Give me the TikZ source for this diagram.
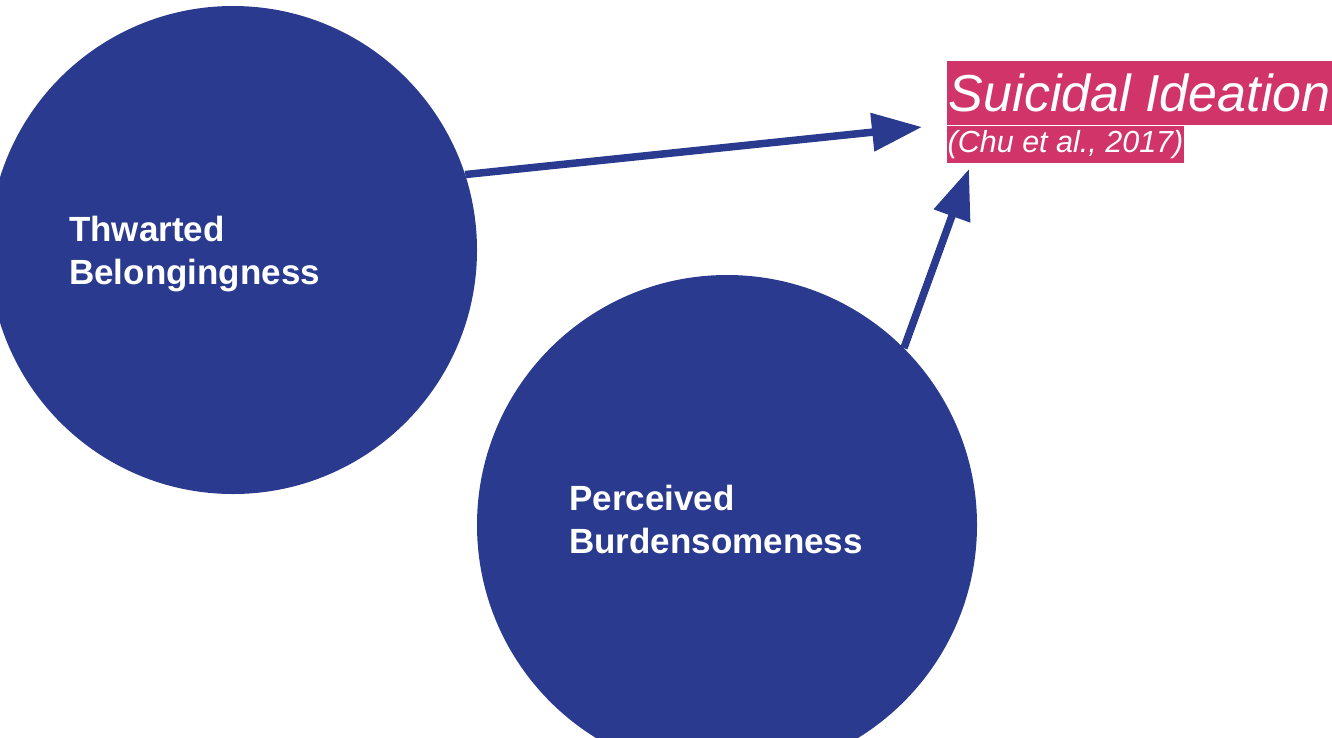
\documentclass[tikz,border=0pt]{standalone}
\usepackage{fontspec}
\setmainfont{Liberation Sans}
\usetikzlibrary{arrows.meta}
\definecolor{navy}{RGB}{42,58,142}
\definecolor{rose}{RGB}{209,52,105}

\begin{document}
\begin{tikzpicture}[x=1pt,y=-1pt,
  blob/.style={circle,fill=navy,draw=none,inner sep=0pt},
  lbl/.style={text=white,align=left,inner sep=0pt,
    font=\fontsize{35}{43}\selectfont\bfseries},
  tag/.style={fill=rose,text=white,inner ysep=0pt,inner xsep=1pt,anchor=north west},
  conn/.style={draw=navy,line width=7.5pt,-{Triangle[length=50pt,width=37pt]}}]
\useasboundingbox (0,0) rectangle (1332,737);
\clip (0,0) rectangle (1332,737);

% the two causes
\node[blob,minimum size=488pt] (tb) at (233,250) {};
\node[blob,minimum size=500pt] (pb) at (727,525) {};
\node[lbl,anchor=north west] (tbt) at (69,216) {Thwarted\\Belongingness};
\node[lbl,anchor=north west] (pbt) at (569,485) {Perceived\\Burdensomeness};

% the outcome label
\node[tag,minimum width=386pt,minimum height=64pt,
  font=\fontsize{52}{60}\selectfont\itshape] (si) at (946.5,61) {Suicidal Ideation};
\node[tag,minimum width=236.5pt,minimum height=37.7pt,
  font=\fontsize{30.5}{36}\selectfont\itshape] (ref) at (si.south west) {(Chu et al., 2017)};

% arrow end points just off the label
\coordinate (t1) at (922,127);
\coordinate (t2) at (969,169);

\draw[conn] (tb.18) -- (t1);
\draw[conn] (pb.45) -- (t2);
\end{tikzpicture}
\end{document}
